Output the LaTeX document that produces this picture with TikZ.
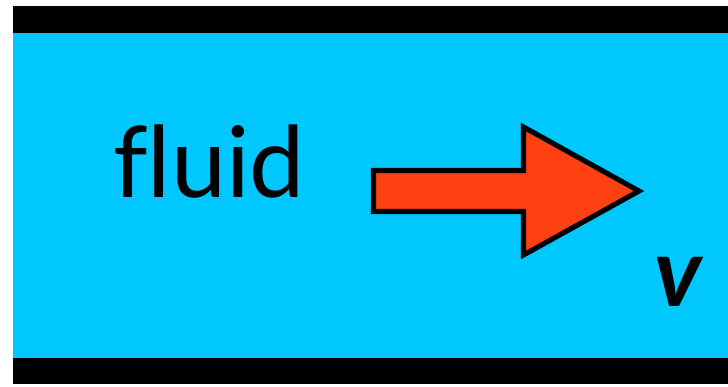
\documentclass[tikz,border=0pt]{standalone}
\usepackage{fontspec}
\setmainfont[Ligatures=NoCommon]{Lato}
\usetikzlibrary{positioning}
\definecolor{fluidblue}{RGB}{0,200,255}
\definecolor{flowred}{RGB}{255,64,16}
\tikzset{
  wall/.style={fill=black, draw=none},
  fluidbox/.style={fill=fluidblue, draw=none},
  flowarrow/.style={
    fill=flowred,
    draw=black,
    line width=3.8pt,
    line join=miter
  },
  every picture/.style={
    x=0.75pt, y=-0.75pt
  }
}

\begin{document}
\begin{tikzpicture}
  \useasboundingbox (0,0) rectangle (728,386);
  % channel
  \fill[fluidbox] (13,33) rectangle (728,358);
  \fill[wall] (13,6) rectangle (728,33);
  \fill[wall] (13,358) rectangle (728,384);
  % velocity arrow
  \draw[flowarrow] (373.5,170.5) -- (523.5,170.5) -- (523.5,127)
    -- (639,191) -- (523.5,255) -- (523.5,211.5) -- (373.5,211.5) -- cycle;
  % labels
  \node[anchor=base west, inner sep=0pt, font=\fontsize{74}{82}\selectfont] (fluid) at (113,197) {fluid};
  \node[anchor=base west, inner sep=0pt, font=\fontsize{72}{80}\selectfont\bfseries\itshape] (vel) at (654,306) {v};
\end{tikzpicture}
\end{document}
